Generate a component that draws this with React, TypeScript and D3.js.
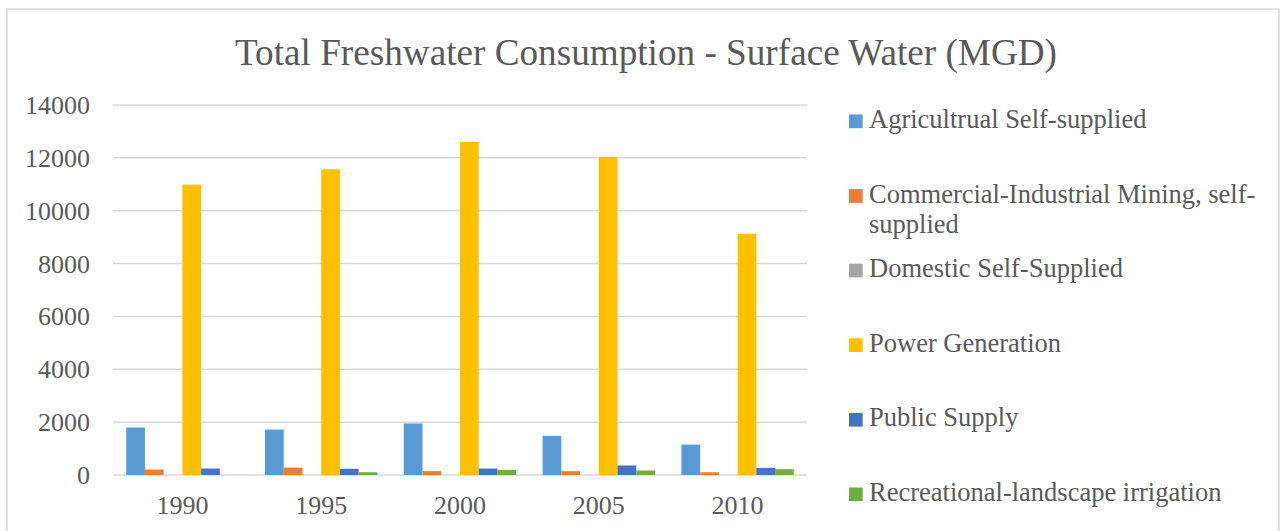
import React from "react";
import * as d3 from "d3";

const years = ["1990", "1995", "2000", "2005", "2010"];
const seriesNames = [
  "Agricultrual Self-supplied",
  "Commercial-Industrial Mining, self-supplied",
  "Domestic Self-Supplied",
  "Power Generation",
  "Public Supply",
  "Recreational-landscape irrigation",
];
const agricultural = [1800, 1720, 1950, 1480, 1150];
const commercial = [205, 280, 145, 145, 105];
const domestic = [0, 0, 0, 0, 0];
const power = [10990, 11570, 12600, 12040, 9130];
const publicSupply = [245, 235, 245, 360, 270];
const recreational = [0, 105, 195, 170, 220];
const yTicks = [0, 2000, 4000, 6000, 8000, 10000, 12000, 14000];
const colors = ["#5B9BD5", "#ED7D31", "#A5A5A5", "#FFC000", "#4472C4", "#70AD47"];

const allSeries = [agricultural, commercial, domestic, power, publicSupply, recreational];

const W = 1282;
const H = 531;
const plotLeft = 113;
const plotRight = 807;
const plotTop = 105;
const plotBottom = 475;
const FONT = "'Liberation Serif', 'Times New Roman', serif";
const TEXT = "#595959";
const GRID = "#d9d9d9";

function wrap(text: string, maxWidth: number, font: string): string[] {
  const canvas = document.createElement("canvas");
  const ctx = canvas.getContext("2d")!;
  ctx.font = font;
  const tokens = text.match(/[^\s-]+[-\s]?|[-\s]/g) || [text];
  const lines: string[] = [];
  let cur = "";
  for (const t of tokens) {
    const test = cur + t;
    if (ctx.measureText(test.trimEnd()).width > maxWidth && cur) {
      lines.push(cur.trimEnd());
      cur = t;
    } else cur = test;
  }
  if (cur) lines.push(cur.trimEnd());
  return lines;
}

export default function App() {
  const x0 = d3.scaleBand<string>().domain(years).range([plotLeft, plotRight]).paddingInner(0).paddingOuter(0);
  const bw = x0.bandwidth();
  const barW = bw / (6 + 1.41);
  const groupOffset = (bw - barW * 6) / 2;
  const x1 = d3
    .scaleBand<string>()
    .domain(seriesNames)
    .range([groupOffset, groupOffset + barW * 6])
    .padding(0);
  const y = d3.scaleLinear().domain([0, 14000]).range([plotBottom, plotTop]);

  const legendFontSize = 26.5;
  const legendX = 849;
  const legendY0 = 128;
  const legendStep = 74.6;

  return (
    <svg width={W} height={H} style={{ position: "absolute", left: 0, top: 0, background: "#fff" }}>
      <rect x={7} y={9} width={W - 10} height={H + 10} fill="#fff" stroke={GRID} strokeWidth={1.5} />
      <text x={646} y={65} textAnchor="middle" fontFamily={FONT} fontSize={37.2} fill={TEXT}>
        Total Freshwater Consumption - Surface Water (MGD)
      </text>
      {yTicks.map((t) => (
        <g key={t}>
          <line x1={plotLeft} x2={plotRight} y1={y(t)} y2={y(t)} stroke={GRID} strokeWidth={1.5} />
          <text x={90} y={y(t) + 9} textAnchor="end" fontFamily={FONT} fontSize={26} fill={TEXT}>
            {t}
          </text>
        </g>
      ))}
      {years.map((yr, i) => (
        <g key={yr}>
          {allSeries.map((s, j) => {
            const v = s[i];
            if (v <= 0) return null;
            return (
              <rect
                key={j}
                x={(x0(yr) as number) + (x1(seriesNames[j]) as number)}
                y={y(v)}
                width={x1.bandwidth()}
                height={y(0) - y(v)}
                fill={colors[j]}
              />
            );
          })}
          <text
            x={(x0(yr) as number) + bw / 2}
            y={514}
            textAnchor="middle"
            fontFamily={FONT}
            fontSize={26}
            fill={TEXT}
          >
            {yr}
          </text>
        </g>
      ))}
      {seriesNames.map((name, i) => {
        const by = legendY0 + i * legendStep;
        const lines = wrap(name, 1282 - 869 - 4, `${legendFontSize}px 'Liberation Serif'`);
        return (
          <g key={name}>
            <rect x={legendX} y={by - 13.5} width={13.7} height={13.7} fill={colors[i]} />
            <text x={869} y={by} fontFamily={FONT} fontSize={legendFontSize} fill={TEXT}>
              {lines.map((l, k) => (
                <tspan key={k} x={869} dy={k === 0 ? 0 : 30}>
                  {l}
                </tspan>
              ))}
            </text>
          </g>
        );
      })}
    </svg>
  );
}
